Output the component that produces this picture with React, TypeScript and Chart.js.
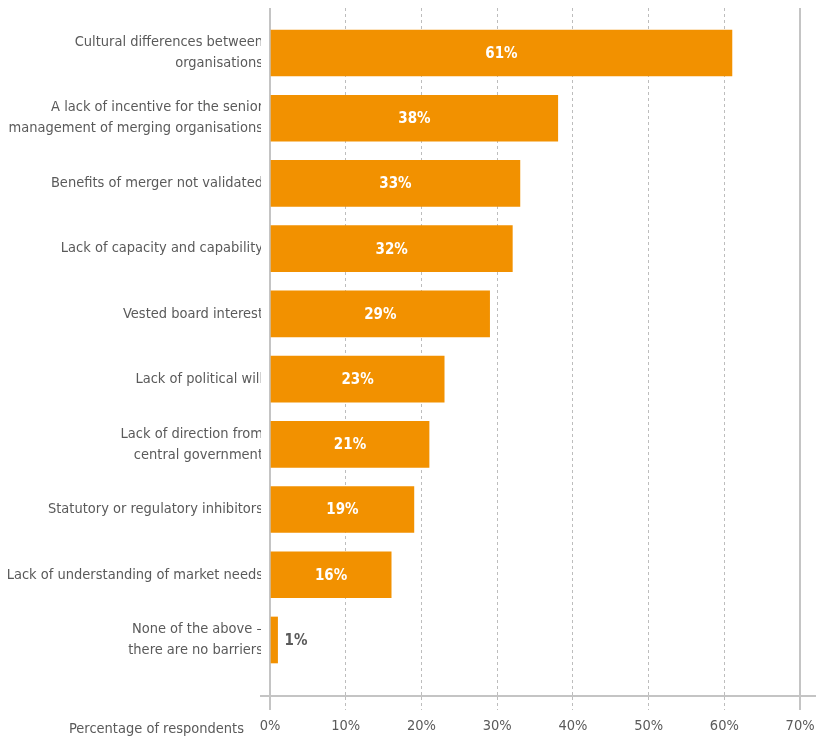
import React, { useEffect, useRef } from "react";
import { Chart, registerables } from "chart.js";

Chart.register(...registerables);

const categories: string[][] = [
  ["Cultural differences between", "organisations"],
  ["A lack of incentive for the senior", "management of merging organisations"],
  ["Benefits of merger not validated"],
  ["Lack of capacity and capability"],
  ["Vested board interest"],
  ["Lack of political will"],
  ["Lack of direction from", "central government"],
  ["Statutory or regulatory inhibitors"],
  ["Lack of understanding of market needs"],
  ["None of the above \u2013", "there are no barriers"],
];
const values: number[] = [61, 38, 33, 32, 29, 23, 21, 19, 16, 1];
const xTicks: number[] = [0, 10, 20, 30, 40, 50, 60, 70];
const axisTitle = "Percentage of respondents";

const FONT = "'Liberation Sans Narrow', 'DejaVu Sans Condensed', sans-serif";
const ORANGE = "#F29100";
const TEXT = "#5a5a5a";

const labelPlugin = {
  id: "valueLabels",
  afterDatasetsDraw(chart: any) {
    const { ctx } = chart;
    const meta = chart.getDatasetMeta(0);
    ctx.save();
    ctx.font = `bold 15px ${FONT}`;
    ctx.textBaseline = "middle";
    meta.data.forEach((bar: any, i: number) => {
      const v = values[i];
      const txt = `${v}%`;
      if (v >= 5) {
        ctx.fillStyle = "#ffffff";
        ctx.textAlign = "center";
        ctx.fillText(txt, (bar.x + bar.base) / 2, bar.y + 1);
      } else {
        ctx.fillStyle = TEXT;
        ctx.textAlign = "left";
        ctx.fillText(txt, bar.x + 7, bar.y + 1);
      }
    });
    const xs = chart.scales.x;
    ctx.font = `14.5px ${FONT}`;
    ctx.fillStyle = TEXT;
    ctx.textAlign = "right";
    ctx.fillText(axisTitle, xs.getPixelForValue(0) - 26, 729);
    ctx.restore();
  },
};

const zeroPad = (axis: any) => {
  axis.paddingLeft = 0;
  axis.paddingRight = 0;
  axis.paddingTop = 0;
  axis.paddingBottom = 0;
};

export default function App() {
  const ref = useRef<HTMLCanvasElement | null>(null);
  useEffect(() => {
    if (!ref.current) return;
    const isSolid = (c: any) => c.tick && (c.tick.value === 0 || c.tick.value === 70);
    const chart = new Chart(ref.current, {
      type: "bar",
      data: {
        datasets: [
          {
            data: values.map((v, i) => ({ x: v, y: i })),
            backgroundColor: ORANGE,
            barThickness: 46,
            borderWidth: 0,
          },
        ],
      },
      options: {
        indexAxis: "y",
        animation: false,
        responsive: false,
        maintainAspectRatio: false,
        layout: { padding: { top: 8, right: 0, bottom: 0, left: 0 } },
        plugins: { legend: { display: false }, tooltip: { enabled: false } },
        scales: {
          x: {
            type: "linear",
            min: -1.19,
            max: 72.1,
            afterBuildTicks: (axis: any) => {
              axis.ticks = xTicks.map((v) => ({ value: v }));
            },
            afterFit: (axis: any) => {
              axis.height = 44;
              zeroPad(axis);
            },
            ticks: {
              callback: (v: any) => `${v}%`,
              color: TEXT,
              font: { family: FONT, size: 14.5 },
              padding: 8,
              maxRotation: 0,
              autoSkip: false,
            },
            grid: {
              color: (c: any) => (isSolid(c) ? "#c4c4c4" : "#bdbdbd"),
              lineWidth: (c: any) => (isSolid(c) ? 2 : 1),
              tickLength: 14,
              tickBorderDash: (c: any) => (isSolid(c) ? [] : [3, 3]),
            },
            border: {
              display: true,
              color: "#c4c4c4",
              width: 2,
              dash: (c: any) => (isSolid(c) ? [] : [3, 3]),
            },
          },
          y: {
            type: "linear",
            reverse: true,
            offset: false,
            min: -0.69,
            max: 9.859,
            afterBuildTicks: (axis: any) => {
              axis.ticks = categories.map((_, i) => ({ value: i }));
            },
            afterFit: (axis: any) => {
              axis.width = 261;
              zeroPad(axis);
            },
            ticks: {
              callback: (v: any) => categories[v] ?? "",
              color: TEXT,
              font: { family: FONT, size: 14.5, lineHeight: 1.45 },
              padding: -2,
              autoSkip: false,
            },
            grid: { display: false, offset: false, drawTicks: false, tickLength: 0 },
            border: { display: false },
          },
        },
      },
      plugins: [labelPlugin],
    } as any);
    return () => chart.destroy();
  }, []);
  return (
    <div style={{ position: "absolute", left: 0, top: 0, width: 816, height: 740 }}>
      <canvas ref={ref} width={816} height={740} style={{ width: 816, height: 740, display: "block" }} />
    </div>
  );
}
